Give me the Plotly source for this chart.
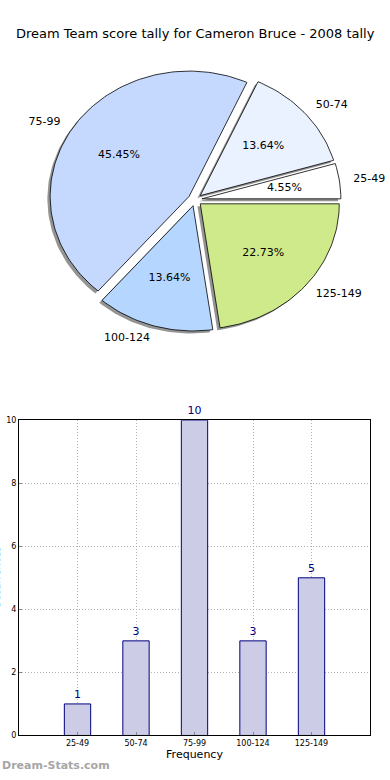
import numpy as np
import plotly.graph_objects as go

# ---------------- data ----------------
categories = ["25-49", "50-74", "75-99", "100-124", "125-149"]
counts = [1, 3, 10, 3, 5]
slice_colors = ["#ffffff", "#eaf1ff", "#c5d9ff", "#b5d6ff", "#cfea8b"]
title_text = "Dream Team score tally for Cameron Bruce - 2008 tally"
bar_ylabel = "Occurrences"
bar_xlabel = "Frequency"
watermark = "Dream-Stats.com"

W, H = 390, 780
FONT = "DejaVu Sans"

fig = go.Figure()

# ---------------- pie (drawn as exploded wedges, matplotlib style) ----------------
total = float(sum(counts))
fracs = [c / total for c in counts]
explode = 0.05
shadow_off = 0.02

wedges = []
theta = 0.0
for cat, f, col in zip(categories, fracs, slice_colors):
    t1, t2 = theta, theta + 360.0 * f
    theta = t2
    mid = np.deg2rad((t1 + t2) / 2)
    ox, oy = explode * np.cos(mid), explode * np.sin(mid)
    ang = np.deg2rad(np.linspace(t1, t2, max(int(f * 240), 10)))
    xs = np.concatenate([[ox], ox + np.cos(ang), [ox]])
    ys = np.concatenate([[oy], oy + np.sin(ang), [oy]])
    wedges.append((cat, f, col, mid, ox, oy, xs, ys))

# shadows
for cat, f, col, mid, ox, oy, xs, ys in wedges:
    fig.add_trace(go.Scatter(x=xs - shadow_off, y=ys - shadow_off, mode="lines",
                             fill="toself", fillcolor="rgba(60,60,60,0.55)",
                             line=dict(width=0), hoverinfo="skip", showlegend=False,
                             xaxis="x", yaxis="y"))
# wedges
for cat, f, col, mid, ox, oy, xs, ys in wedges:
    fig.add_trace(go.Scatter(x=xs, y=ys, mode="lines", fill="toself", fillcolor=col,
                             line=dict(color="black", width=0.8), hoverinfo="skip",
                             showlegend=False, xaxis="x", yaxis="y"))

# percentage texts and labels
pct_x, pct_y, pct_t = [], [], []
for cat, f, col, mid, ox, oy, xs, ys in wedges:
    pct_x.append(ox + 0.6 * np.cos(mid))
    pct_y.append(oy + 0.6 * np.sin(mid))
    pct_t.append("%.2f%%" % (f * 100))
fig.add_trace(go.Scatter(x=pct_x, y=pct_y, text=pct_t, mode="text",
                         textposition="middle center",
                         textfont=dict(family=FONT, size=11, color="black"),
                         hoverinfo="skip", showlegend=False, xaxis="x", yaxis="y"))
for cat, f, col, mid, ox, oy, xs, ys in wedges:
    lx = ox + 1.1 * np.cos(mid)
    ly = oy + 1.1 * np.sin(mid)
    fig.add_trace(go.Scatter(x=[lx], y=[ly], text=[cat], mode="text",
                             textposition="middle right" if lx > 0 else "middle left",
                             textfont=dict(family=FONT, size=11, color="black"),
                             hoverinfo="skip", showlegend=False, xaxis="x", yaxis="y"))

# ---------------- bar chart ----------------
fig.add_trace(go.Bar(x=categories, y=counts, width=0.45,
                     marker=dict(color="#ccccE6", line=dict(color="#000080", width=1)),
                     text=[str(c) for c in counts], textposition="outside",
                     textfont=dict(family=FONT, size=11, color="#000080"),
                     cliponaxis=False, hoverinfo="skip", showlegend=False,
                     xaxis="x2", yaxis="y2"))

# pie axes geometry (pixels): center (195,198), rx 139, ry 126.7
cx, cy, rx, ry = 195.0, 198.0, 139.0, 126.7
py0, py1 = 50.0, 372.0
xr = [(0 - cx) / rx, (W - cx) / rx]
yr = [(cy - py1) / ry, (cy - py0) / ry]

bx0, bx1, by0, by1 = 19.0, 370.0, 421.0, 740.0
GRID = dict(showgrid=True, gridcolor="#b4b4b4", griddash="1px,2px", gridwidth=1)

fig.update_layout(
    width=W, height=H,
    margin=dict(l=0, r=0, t=0, b=0),
    paper_bgcolor="white", plot_bgcolor="white",
    font=dict(family=FONT, color="black"),
    xaxis=dict(domain=[0, 1], range=xr, visible=False, fixedrange=True),
    yaxis=dict(domain=[1 - py1 / H, 1 - py0 / H], range=yr, visible=False, fixedrange=True),
    xaxis2=dict(domain=[bx0 / W, bx1 / W], anchor="y2", range=[-1, 5],
                showline=True, mirror=True, linecolor="black", linewidth=1,
                ticks="inside", ticklen=3, tickcolor="#888",
                tickfont=dict(family=FONT, size=8, color="black"),
                title=dict(text=bar_xlabel, font=dict(family=FONT, size=11), standoff=2),
                zeroline=False, **GRID),
    yaxis2=dict(domain=[1 - by1 / H, 1 - by0 / H], anchor="x2", range=[0, 10],
                tickvals=[0, 2, 4, 6, 8, 10],
                showline=True, mirror=True, linecolor="black", linewidth=1,
                ticks="inside", ticklen=3, tickcolor="#888",
                tickfont=dict(family=FONT, size=8, color="black"),
                zeroline=False, **GRID),
    annotations=[
        dict(text=title_text, x=0.5, y=1 - 30 / H, xref="paper", yref="paper",
             xanchor="center", yanchor="middle", showarrow=False,
             font=dict(family=FONT, size=13, color="black")),
        dict(text=bar_ylabel, x=-3 / W, y=1 - ((by0 + by1) / 2) / H, xref="paper",
             yref="paper", xanchor="center", yanchor="middle", textangle=-90,
             showarrow=False, font=dict(family=FONT, size=10, color="black")),
        dict(text="<b>" + watermark + "</b>", x=0, y=1 - 770 / H, xref="paper",
             yref="paper", xanchor="left", yanchor="middle", showarrow=False,
             font=dict(family=FONT, size=11, color="#a6a6a6")),
    ],
)

fig.write_html(
    "out.html",
    config={"displayModeBar": False, "staticPlot": True},
    post_script="document.body.style.margin='0';document.body.style.padding='0';"
                "document.body.style.overflow='hidden';"
                "document.documentElement.style.overflow='hidden';",
)
